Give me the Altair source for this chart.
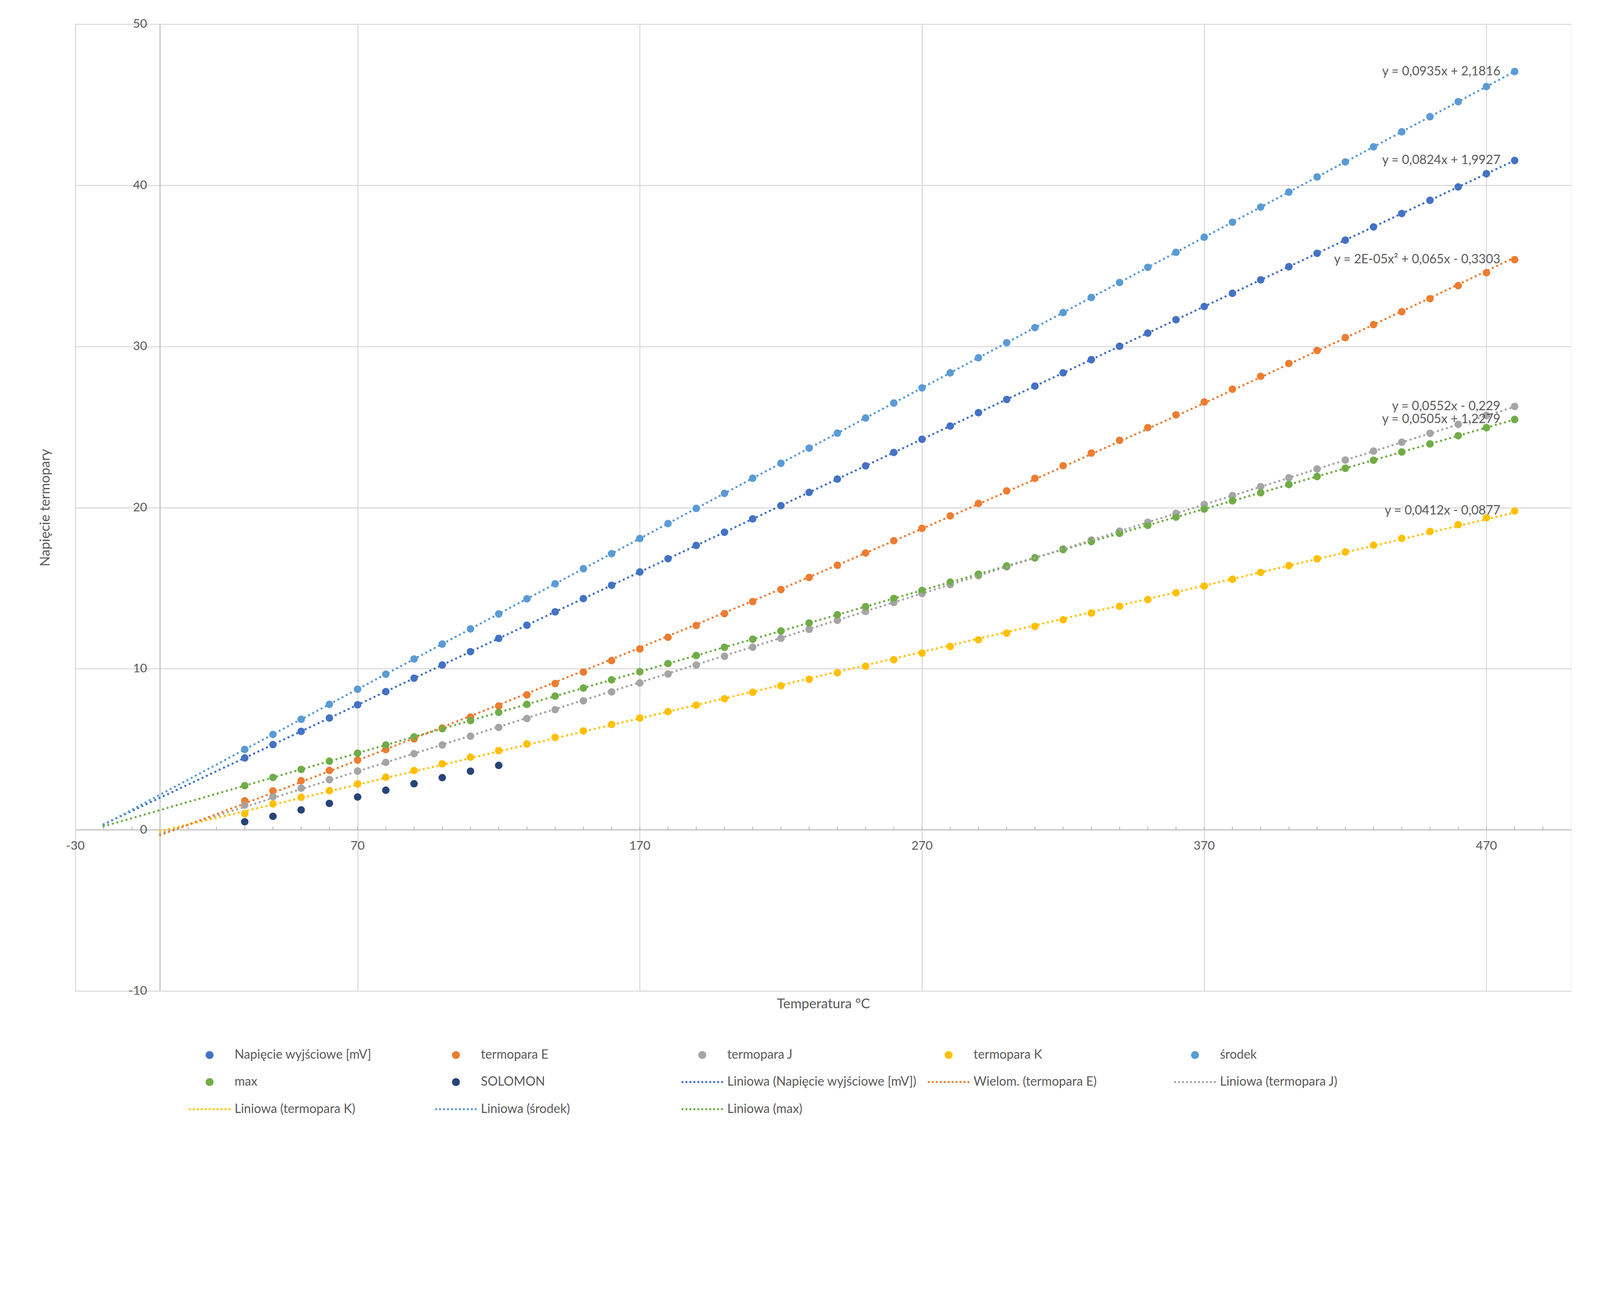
import altair as alt
import pandas as pd

# ---------------- data ----------------
temps = [30, 40, 50, 60, 70, 80, 90, 100, 110, 120, 130, 140, 150, 160, 170, 180,
         190, 200, 210, 220, 230, 240, 250, 260, 270, 280, 290, 300, 310, 320, 330,
         340, 350, 360, 370, 380, 390, 400, 410, 420, 430, 440, 450, 460, 470, 480]

napiecie = [4.46, 5.29, 6.11, 6.94, 7.76, 8.58, 9.41, 10.23, 11.06, 11.88, 12.70, 13.53,
            14.35, 15.18, 16.00, 16.83, 17.65, 18.47, 19.30, 20.12, 20.94, 21.77, 22.59,
            23.42, 24.24, 25.06, 25.89, 26.71, 27.54, 28.36, 29.18, 30.01, 30.83, 31.66,
            32.48, 33.30, 34.13, 34.95, 35.78, 36.60, 37.42, 38.25, 39.07, 39.90, 40.72, 41.54]

termopara_e = [1.801, 2.420, 3.048, 3.685, 4.330, 4.985, 5.648, 6.319, 6.998, 7.685, 8.379,
               9.081, 9.789, 10.503, 11.224, 11.951, 12.684, 13.421, 14.164, 14.912, 15.664,
               16.420, 17.181, 17.945, 18.713, 19.484, 20.259, 21.036, 21.817, 22.600, 23.386,
               24.174, 24.964, 25.757, 26.552, 27.348, 28.146, 28.946, 29.747, 30.550, 31.354,
               32.159, 32.965, 33.772, 34.579, 35.387]

termopara_j = [1.537, 2.059, 2.585, 3.116, 3.650, 4.187, 4.726, 5.269, 5.814, 6.360, 6.909,
               7.459, 8.010, 8.562, 9.115, 9.669, 10.224, 10.779, 11.334, 11.889, 12.445,
               13.000, 13.555, 14.110, 14.665, 15.219, 15.773, 16.327, 16.881, 17.434, 17.986,
               18.538, 19.090, 19.642, 20.194, 20.745, 21.297, 21.848, 22.400, 22.952, 23.504,
               24.057, 24.610, 25.164, 25.720, 26.276]

termopara_k = [1.000, 1.612, 2.023, 2.436, 2.851, 3.267, 3.682, 4.096, 4.509, 4.920, 5.328,
               5.735, 6.138, 6.540, 6.941, 7.340, 7.739, 8.138, 8.539, 8.940, 9.343, 9.747,
               10.153, 10.561, 10.971, 11.382, 11.795, 12.209, 12.624, 13.040, 13.457, 13.874,
               14.293, 14.713, 15.133, 15.554, 15.975, 16.397, 16.820, 17.243, 17.667, 18.091,
               18.516, 18.941, 19.366, 19.792]

srodek = [4.99, 5.92, 6.86, 7.79, 8.73, 9.66, 10.60, 11.53, 12.47, 13.40, 14.34, 15.27,
          16.21, 17.14, 18.08, 19.01, 19.95, 20.88, 21.82, 22.75, 23.69, 24.62, 25.56, 26.49,
          27.43, 28.36, 29.30, 30.23, 31.17, 32.10, 33.04, 33.97, 34.91, 35.84, 36.78, 37.71,
          38.65, 39.58, 40.52, 41.45, 42.39, 43.32, 44.26, 45.19, 46.13, 47.06]

max_v = [2.74, 3.25, 3.75, 4.26, 4.76, 5.27, 5.77, 6.28, 6.78, 7.29, 7.79, 8.30, 8.80, 9.31,
         9.81, 10.32, 10.82, 11.33, 11.83, 12.34, 12.84, 13.35, 13.85, 14.36, 14.86, 15.37,
         15.87, 16.38, 16.88, 17.39, 17.89, 18.40, 18.90, 19.41, 19.91, 20.42, 20.92, 21.43,
         21.93, 22.44, 22.94, 23.45, 23.95, 24.46, 24.96, 25.47]

solomon_temps = [30, 40, 50, 60, 70, 80, 90, 100, 110, 120]
solomon = [0.50, 0.84, 1.24, 1.64, 2.04, 2.46, 2.86, 3.24, 3.64, 4.00]

series_names = ["Napięcie wyjściowe [mV]", "termopara E", "termopara J", "termopara K",
                "środek", "max", "SOLOMON"]
trend_names = ["Liniowa (Napięcie wyjściowe [mV])", "Wielom. (termopara E)",
               "Liniowa (termopara J)", "Liniowa (termopara K)", "Liniowa (środek)",
               "Liniowa (max)"]
equations = ["y = 0,0824x + 1,9927", "y = 2E-05x\u00b2 + 0,065x - 0,3303",
             "y = 0,0552x - 0,229", "y = 0,0412x - 0,0877", "y = 0,0935x + 2,1816",
             "y = 0,0505x + 1,2279"]
series_colors = ["#4472C4", "#ED7D31", "#A5A5A5", "#FFC000", "#5B9BD5", "#70AD47", "#264478"]
trend_colors = ["#4472C4", "#ED7D31", "#A5A5A5", "#FFC000", "#5B9BD5", "#70AD47"]

x_ticks = [-30, 70, 170, 270, 370, 470]
y_ticks = [-10, 0, 10, 20, 30, 40, 50]
minor_ticks = [-20, -10, 0, 10, 20, 30, 40, 50, 60, 70, 80, 90, 100, 110, 120, 130, 140, 150,
               160, 170, 180, 190, 200, 210, 220, 230, 240, 250, 260, 270, 280, 290, 300, 310,
               320, 330, 340, 350, 360, 370, 380, 390, 400, 410, 420, 430, 440, 450, 460, 470,
               480, 490]

# ---------------- tables ----------------
series_values = [napiecie, termopara_e, termopara_j, termopara_k, srodek, max_v]
rows = []
for name, trend, vals in zip(series_names[:6], trend_names, series_values):
    for t, v in zip(temps, vals):
        rows.append({"x": t, "y": v, "series": name, "trend": trend})
for t, v in zip(solomon_temps, solomon):
    rows.append({"x": t, "y": v, "series": "SOLOMON", "trend": "none"})
df = pd.DataFrame(rows)

eq_df = pd.DataFrame({
    "x": [temps[-1]] * len(equations),
    "y": [vals[-1] for vals in series_values],
    "text": equations,
})
ticks_df = pd.DataFrame({"x": minor_ticks})
xlab_df = pd.DataFrame({"x": x_ticks, "label": [str(v) for v in x_ticks]})
ylab_df = pd.DataFrame({"y": y_ticks, "label": [str(v) for v in y_ticks]})
one_df = pd.DataFrame({"k": [0]})

legend_domain = series_names + trend_names
legend_colors = series_colors + trend_colors
legend_df = pd.DataFrame({"name": legend_domain})

# ---------------- layout / style ----------------
W, H = 4408, 2849
PAD_BOTTOM = 395
# the page shows the svg box ~1.15x taller than its viewBox, centred vertically;
# pull the origin up so the plot area lands at the intended place.
STRETCH = 1.1497
PAD_TOP = (59.7 - (STRETCH - 1) / 2 * (H + PAD_BOTTOM)) / (1 + (STRETCH - 1) / 2)
x_dom = [-30, 500]
y_dom = [-10, 50]
FONT = "Lato"
TXT = "#595959"
GRID = "#d9d9d9"
AXIS = "#bfbfbf"


def dot_circle(cx, r):
    return f"M{cx - r:.3f},0a{r},{r} 0 1,0 {2 * r:.3f},0a{r},{r} 0 1,0 {-2 * r:.3f},0"


circle_path = "M-1,0M1,0" + dot_circle(0, 0.19)
dots_path = "".join(dot_circle(-0.95 + 0.19 * i, 0.053) for i in range(11))
legend_shapes = [circle_path] * 7 + [dots_path] * 6

color_scale = alt.Scale(domain=legend_domain, range=legend_colors)
shape_scale = alt.Scale(domain=legend_domain, range=legend_shapes)

legend = alt.Legend(
    title=None, orient="none", direction="horizontal", legendX=334, legendY=2976,
    columns=5, gridAlign="all", columnPadding=31, rowPadding=-9, symbolSize=15129,
    symbolStrokeWidth=0, symbolOffset=0, labelFont=FONT, labelFontSize=37,
    labelColor=TXT, labelOffset=12, labelLimit=2000, padding=0,
)

x_axis = alt.Axis(
    values=x_ticks, title="Temperatura °C", grid=True, gridColor=GRID, gridWidth=3,
    domain=False, ticks=False, labels=False, minExtent=0, maxExtent=0,
    titleX=W / 2, titleY=38, titleBaseline="middle", titleAlign="center",
    titleFont=FONT, titleFontSize=40, titleFontWeight="normal", titleColor=TXT,
)
y_axis = alt.Axis(
    values=y_ticks, title="Napięcie termopary", grid=True, gridColor=GRID, gridWidth=3,
    domain=False, ticks=False, labels=False, minExtent=0, maxExtent=0,
    titleX=-89, titleY=H / 2, titleAngle=270, titleBaseline="middle", titleAlign="center",
    titleFont=FONT, titleFontSize=40, titleFontWeight="normal", titleColor=TXT,
)

xs = alt.Scale(domain=x_dom, nice=False, zero=False)
ys = alt.Scale(domain=y_dom, nice=False, zero=False)
x_enc = alt.X("x:Q", scale=xs, axis=x_axis)
y_enc = alt.Y("y:Q", scale=ys, axis=y_axis)

x_line = alt.Chart(one_df).mark_rule(color=AXIS, strokeWidth=3).encode(
    x=alt.datum(x_dom[0]), x2=alt.datum(x_dom[1]), y=alt.datum(0)
)
y_line = alt.Chart(one_df).mark_rule(color=AXIS, strokeWidth=3).encode(
    x=alt.datum(0), y=alt.datum(y_dom[0]), y2=alt.datum(y_dom[1])
)
minor = alt.Chart(ticks_df).mark_rule(color=AXIS, strokeWidth=3).encode(
    x=x_enc, y=alt.datum(0), y2=alt.datum(0.2)
)
x_labels = alt.Chart(xlab_df).mark_text(
    align="center", baseline="top", dy=31, font=FONT, fontSize=36, color=TXT
).encode(x=x_enc, y=alt.datum(0), text="label:N")
y_labels = alt.Chart(ylab_df).mark_text(
    align="right", baseline="middle", dx=-38, font=FONT, fontSize=36, color=TXT
).encode(x=alt.datum(0), y=y_enc, text="label:N")

legend_layer = (
    alt.Chart(legend_df)
    .transform_filter("false")
    .mark_point(filled=True, opacity=1, strokeWidth=0)
    .encode(
        x=x_enc, y=y_enc,
        color=alt.Color("name:N", scale=color_scale, legend=legend),
        shape=alt.Shape("name:N", scale=shape_scale, legend=legend),
    )
)

points = alt.Chart(df).mark_circle(opacity=1, size=491).encode(
    x=x_enc, y=y_enc,
    color=alt.Color("series:N", scale=color_scale, legend=None),
)

line_style = dict(strokeDash=[0.1, 13.9], strokeCap="round", strokeWidth=6.5)


def trend_layer(members, extent, method="linear", order=None):
    kw = dict(groupby=["trend"], extent=extent, method=method)
    if order is not None:
        kw["order"] = order
    return (
        alt.Chart(df)
        .transform_filter(alt.FieldOneOfPredicate(field="series", oneOf=members))
        .transform_regression("x", "y", **kw)
        .mark_line(**line_style)
        .encode(x=x_enc, y=y_enc,
                color=alt.Color("trend:N", scale=color_scale, legend=None))
    )


trend_a = trend_layer([series_names[0], series_names[4], series_names[5]], [-20, 480])
trend_b = trend_layer([series_names[2], series_names[3]], [0, 480])
trend_e = trend_layer([series_names[1]], [0, 480], method="poly", order=2)

labels = alt.Chart(eq_df).mark_text(
    align="right", baseline="middle", dx=-42, font=FONT, fontSize=37, color=TXT
).encode(x=x_enc, y=y_enc, text="text:N")

chart = (
    alt.layer(x_line, y_line, minor, x_labels, y_labels, legend_layer, points,
              trend_a, trend_b, trend_e, labels)
    .properties(
        width=W, height=H,
        padding={"left": 213, "top": PAD_TOP, "right": 76, "bottom": PAD_BOTTOM},
        autosize=alt.AutoSizeParams(type="none"),
        background="white",
    )
    .configure_view(stroke=None)
    .configure(font=FONT)
)

chart.save("out.html", embed_options={"renderer": "svg", "actions": False})
